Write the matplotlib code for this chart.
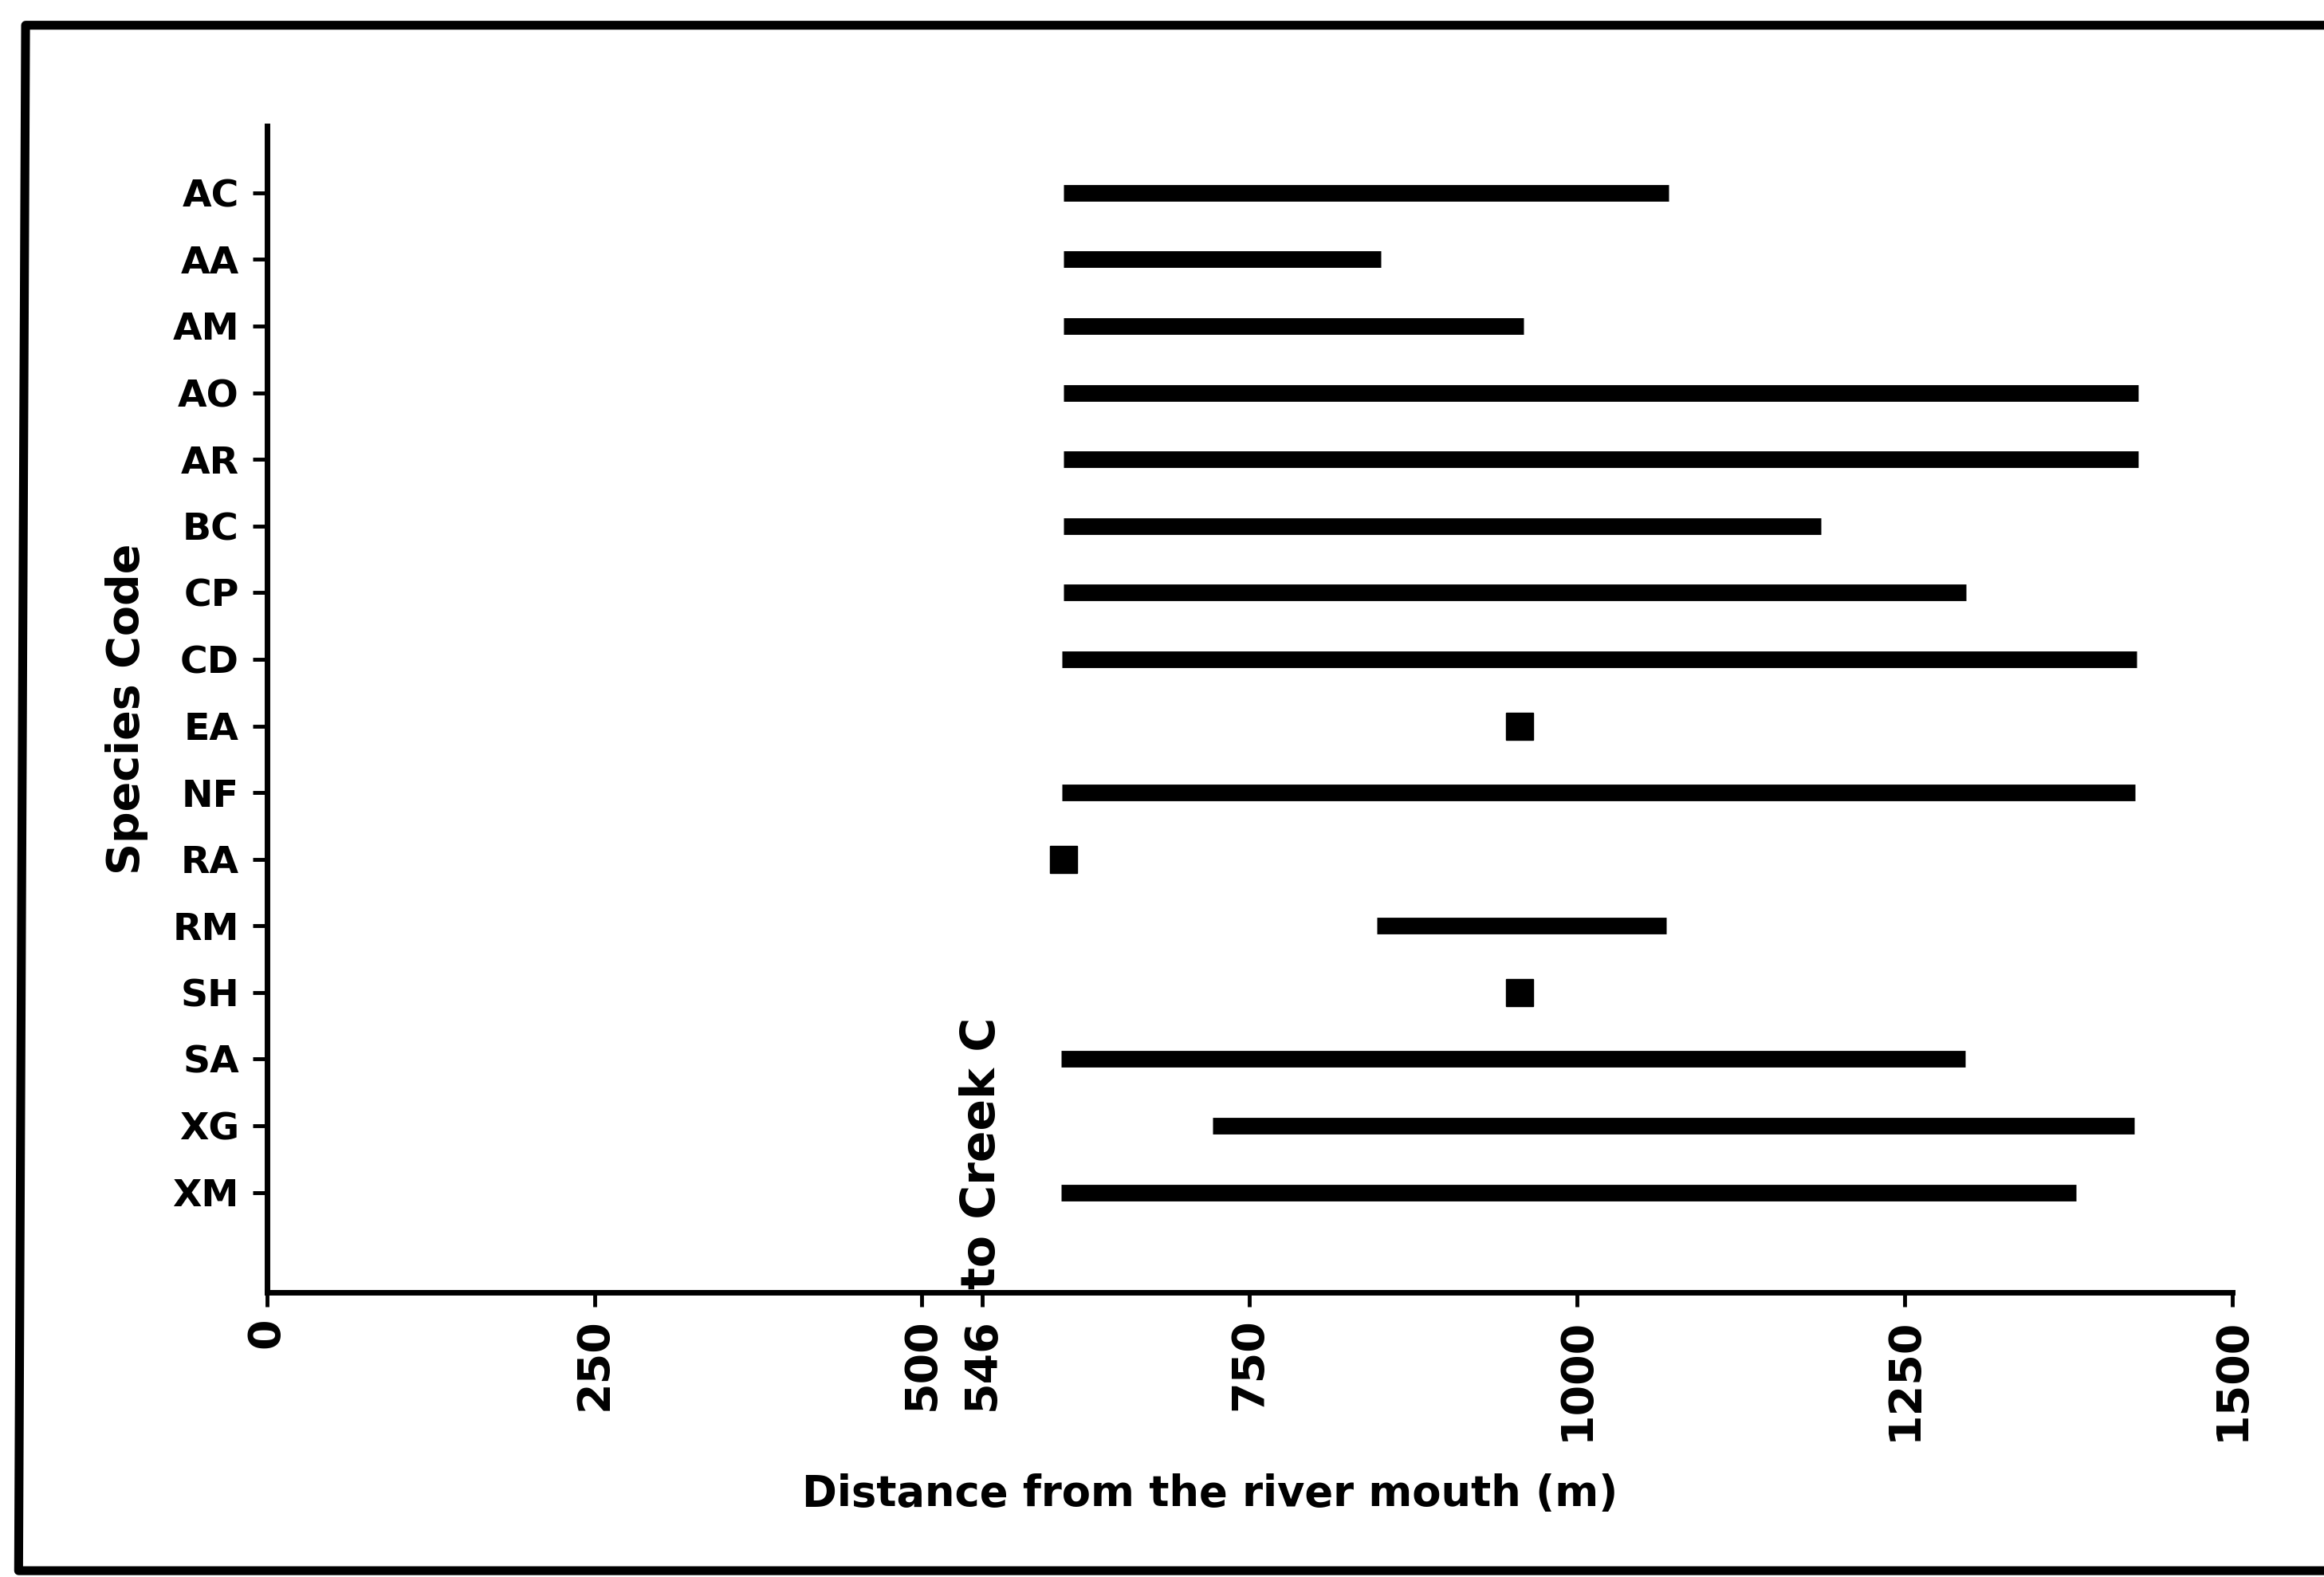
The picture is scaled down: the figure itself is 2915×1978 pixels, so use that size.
import matplotlib
matplotlib.use("Agg")
import matplotlib.pyplot as plt
from matplotlib.lines import Line2D

# Species recorded along the river and the stretch (m from the mouth) where each was found
species = ["AC", "AA", "AM", "AO", "AR", "BC", "CP", "CD",
           "EA", "NF", "RA", "RM", "SH", "SA", "XG", "XM"]
first_seen = [608, 608, 608, 608, 608, 608, 608, 607,
              956, 607, 608, 847, 956, 606, 722, 606]
last_seen = [1070, 850, 959, 1428, 1428, 1186, 1297, 1427,
             956, 1426, 608, 1068, 956, 1296, 1425, 1381]

x_ticks = [0, 250, 500, 546, 750, 1000, 1250, 1500]
creek_km = 546

plt.rcParams["font.family"] = "DejaVu Sans"
plt.rcParams["font.weight"] = "bold"

fig = plt.figure(figsize=(29.15, 19.78), dpi=100)
ax = fig.add_axes([0.1148, 0.1805, 0.8457, 0.7395])

for i, (sp, a, b) in enumerate(zip(species, first_seen, last_seen)):
    y = i + 1
    if a == b:
        # only found at one site
        ax.plot([a], [y], marker="s", markersize=25, color="black", linestyle="none")
    else:
        ax.plot([a, b], [y, y], color="black", linewidth=15, solid_capstyle="butt")

ax.text(creek_km, 17.45, "to Creek C", rotation=90, ha="center", va="bottom",
        fontsize=42, fontweight="bold")

ax.set_xlim(0, 1500)
ax.set_ylim(17.5, 0)
ax.set_xticks(x_ticks)
ax.set_xticklabels([str(t) for t in x_ticks], rotation=90, fontsize=40)
ax.set_yticks(range(1, len(species) + 1))
ax.set_yticklabels(species, fontsize=34)

ax.tick_params(axis="both", direction="out", length=13, width=3.5, color="black")
ax.tick_params(axis="x", pad=10)
ax.tick_params(axis="y", pad=12)

for side in ["top", "right"]:
    ax.spines[side].set_visible(False)
for side in ["left", "bottom"]:
    ax.spines[side].set_linewidth(5)

ax.set_xlabel("Distance from the river mouth (m)", fontsize=38, fontweight="bold", labelpad=26)
ax.set_ylabel("Species Code", fontsize=40, fontweight="bold", labelpad=22)
ax.xaxis.set_label_coords(0.48, -0.155)

# frame round the whole figure
fig.add_artist(Line2D([1.0, 0.011, 0.008, 1.0], [0.984, 0.984, 0.004, 0.004],
                      transform=fig.transFigure, color="black", linewidth=8))

fig.savefig("out.png", dpi=100, facecolor="white")
